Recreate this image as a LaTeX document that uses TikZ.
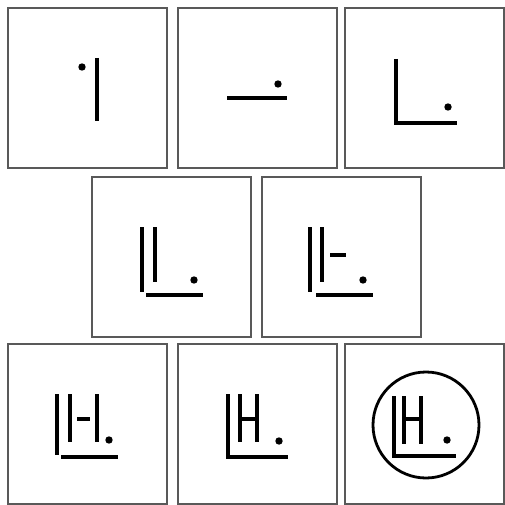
\documentclass[tikz,border=0pt]{standalone}
\usepackage{tikz}
\usetikzlibrary{positioning}

\begin{document}
\begin{tikzpicture}[
		x=1pt, y=-1pt,
		panel/.style={draw=black!65, line width=1.3pt, anchor=north west, minimum width=159pt, minimum height=160pt, inner sep=0pt, outer sep=0pt},
		stroke/.style={line width=3.4pt, black},
		]
		\useasboundingbox (0,0) rectangle (505,505);
		% Panels, three rows
		\node[panel] (p1) at (8,8) {};
		\node[panel] (p2) at (178,8) {};
		\node[panel] (p3) at (345,8) {};
		\node[panel] (p4) at (92,177) {};
		\node[panel] (p5) at (262,177) {};
		\node[panel] (p6) at (8,344) {};
		\node[panel] (p7) at (178,344) {};
		\node[panel] (p8) at (345,344) {};
		
		% Row 1: stroke and dot, then the L
		\begin{scope}[shift={(p1.north west)}]
			\fill (74,59) circle[radius=3.7pt];
			\draw[stroke] (89,50) -- (89,113);
		\end{scope}
		\begin{scope}[shift={(p2.north west)}]
			\draw[stroke] (49,90) -- (109,90);
			\fill (100,76) circle[radius=3.7pt];
		\end{scope}
		\begin{scope}[shift={(p3.north west)}]
			\draw[stroke] (51,51) -- (51,115) -- (112,115);
			\fill (103,99) circle[radius=3.7pt];
		\end{scope}
		
		% Row 2: second upright, then the small bar
		\begin{scope}[shift={(p4.north west)}]
			\draw[stroke] (50,50) -- (50,115);
			\draw[stroke] (63,50) -- (63,105);
			\draw[stroke] (54,118) -- (111,118);
			\fill (102,103) circle[radius=3.7pt];
		\end{scope}
		\begin{scope}[shift={(p5.north west)}]
			\draw[stroke] (48,50) -- (48,115);
			\draw[stroke] (60,50) -- (60,105);
			\draw[stroke] (68,78) -- (84,78);
			\draw[stroke] (54,118) -- (111,118);
			\fill (101,103) circle[radius=3.7pt];
		\end{scope}
		
		% Row 3: the H forms, last one circled
		\begin{scope}[shift={(p6.north west)}]
			\draw[stroke] (49,50) -- (49,111);
			\draw[stroke] (62,50) -- (62,98);
			\draw[stroke] (69,75) -- (82,75);
			\draw[stroke] (89,50) -- (89,98);
			\draw[stroke] (53,113) -- (110,113);
			\fill (101,96) circle[radius=3.7pt];
		\end{scope}
		\begin{scope}[shift={(p7.north west)}]
			\draw[stroke] (50,50) -- (50,113) -- (110,113);
			\draw[stroke] (62,50) -- (62,98);
			\draw[stroke] (79,50) -- (79,98);
			\draw[stroke] (62,75) -- (79,75);
			\fill (101,97) circle[radius=3.7pt];
		\end{scope}
		\begin{scope}[shift={(p8.north west)}]
			\draw[line width=2.8pt] (81,81) circle[radius=53pt];
			\draw[stroke] (49,52) -- (49,112) -- (111,112);
			\draw[stroke] (59,52) -- (59,100);
			\draw[stroke] (76,52) -- (76,100);
			\draw[stroke] (59,75) -- (76,75);
			\fill (102,96) circle[radius=3.7pt];
		\end{scope}
	\end{tikzpicture}
\end{document}
